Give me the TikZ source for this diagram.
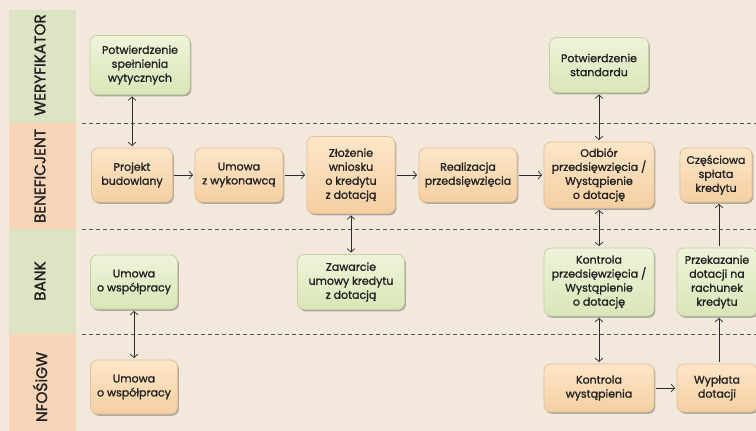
\documentclass[tikz,border=0pt]{standalone}
\usepackage{fontspec}
\setmainfont{Poppins}[FakeBold=1.4]
\newfontfamily\lanefont{Poppins}[FakeBold=1.4]
\usetikzlibrary{arrows.meta,shadows}
\definecolor{bg}{HTML}{F2E8DC}
\definecolor{lanegreen}{HTML}{DCE4C4}
\definecolor{laneorange}{HTML}{F8D5B8}
\definecolor{otop}{HTML}{FDE6C8}
\definecolor{obot}{HTML}{F5CFA2}
\definecolor{oedge}{HTML}{E6BF95}
\definecolor{gtop}{HTML}{EEF4DA}
\definecolor{gbot}{HTML}{DAE6B8}
\definecolor{gedge}{HTML}{C4D2A0}
\definecolor{txt}{HTML}{222222}
\definecolor{linec}{HTML}{2A2A2A}
\definecolor{dashc}{HTML}{555555}
\begin{document}
\begin{tikzpicture}[x=1pt,y=-1pt,
  box/.style={rounded corners=7pt, align=center, inner sep=0pt, line width=0.8pt,
    font=\fontsize{11}{14}\selectfont, text=txt,
    drop shadow={shadow xshift=1.4pt, shadow yshift=-1.8pt, opacity=0.4, fill=black!70}},
  obox/.style={box, draw=oedge, top color=otop, bottom color=obot},
  gbox/.style={box, draw=gedge, top color=gtop, bottom color=gbot},
  tip/.tip={Straight Barb[length=3.5pt,width=7.5pt]},
  conn/.style={draw=linec, line width=0.7pt, -tip, shorten >=1.5pt, shorten <=1.5pt},
  biconn/.style={conn, tip-tip},
  lanelabel/.style={rotate=90, font=\lanefont\fontsize{15.3}{17}\selectfont, text=txt, inner sep=0pt},
  sep/.style={draw=dashc, line width=0.7pt, dash pattern=on 4pt off 3pt}
]
\useasboundingbox (0,0) rectangle (756,431);
\fill[bg] (0,0) rectangle (756,431);
% lanes
\fill[lanegreen]  (9,10)  rectangle (76,123);
\fill[laneorange] (9,123) rectangle (76,229);
\fill[lanegreen]  (9,229) rectangle (76,334);
\fill[laneorange] (9,334) rectangle (76,431);
\node[lanelabel] (lw) at (40,65)  {WERYFIKATOR};
\node[lanelabel] (lb) at (40,176) {BENEFICJENT};
\node[lanelabel] (lk) at (40,281) {BANK};
\node[lanelabel] (ln) at (40,387) {NFOŚiGW};
% separators
\coordinate (s1a) at (82,123); \coordinate (s1b) at (756,123);
\coordinate (s2a) at (82,229); \coordinate (s2b) at (756,229);
\coordinate (s3a) at (82,334); \coordinate (s3b) at (756,334);
\draw[sep] (s1a) -- (s1b);
\draw[sep] (s2a) -- (s2b);
\draw[sep] (s3a) -- (s3b);
% nodes
\node[gbox, minimum width=100pt, minimum height=59pt] (pw) at (140,65) {Potwierdzenie\\spełnienia\\wytycznych};
\node[gbox, minimum width=99pt, minimum height=55pt] (ps) at (599,65) {Potwierdzenie\\standardu};
\node[obox, minimum width=81pt, minimum height=54pt] (proj) at (132,175) {Projekt\\budowlany};
\node[obox, minimum width=88pt, minimum height=54pt] (umw) at (239,175) {Umowa\\z wykonawcą};
\node[obox, minimum width=88pt, minimum height=77pt] (zl) at (351,175) {Złożenie\\wniosku\\o kredytu\\z dotacją};
\node[obox, minimum width=98pt, minimum height=54pt] (real) at (468,175) {Realizacja\\przedsięwzięcia};
\node[obox, minimum width=110pt, minimum height=66pt] (odb) at (599,175) {Odbiór\\przedsięwzięcia /\\Wystąpienie\\o dotację};
\node[obox, minimum width=72pt, minimum height=54pt] (csp) at (716,175) {Częściowa\\spłata\\kredytu};
\node[gbox, minimum width=87pt, minimum height=54pt] (ub) at (134,282) {Umowa\\o współpracy};
\node[gbox, minimum width=107pt, minimum height=55pt] (zaw) at (351,282) {Zawarcie\\umowy kredytu\\z dotacją};
\node[gbox, minimum width=110pt, minimum height=68pt] (kp) at (599,282) {Kontrola\\przedsięwzięcia /\\Wystąpienie\\o dotację};
\node[gbox, minimum width=80pt, minimum height=68pt] (prz) at (717,282) {Przekazanie\\dotacji na\\rachunek\\kredytu};
\node[obox, minimum width=87pt, minimum height=54pt] (un) at (134,387) {Umowa\\o współpracy};
\node[obox, minimum width=110pt, minimum height=48pt] (kw) at (599,388) {Kontrola\\wystąpienia};
\node[obox, minimum width=80pt, minimum height=48pt] (wyp) at (717,388) {Wypłata\\dotacji};
% connectors
\draw[biconn] (pw.south -| proj.north) -- (proj.north);
\draw[conn] (proj) -- (umw);
\draw[conn] (umw) -- (zl);
\draw[conn] (zl) -- (real);
\draw[conn] (real) -- (odb);
\draw[biconn] (zl) -- (zaw);
\draw[biconn] (ps) -- (odb);
\draw[biconn] (odb) -- (kp);
\draw[biconn] (kp) -- (kw);
\draw[conn] (kw) -- (wyp);
\draw[conn] (wyp.north -| 719,0) -- (prz.south -| 719,0);
\draw[conn] (prz.north -| 719,0) -- (csp.south -| 719,0);
\draw[biconn] (ub) -- (un);
\end{tikzpicture}
\end{document}
